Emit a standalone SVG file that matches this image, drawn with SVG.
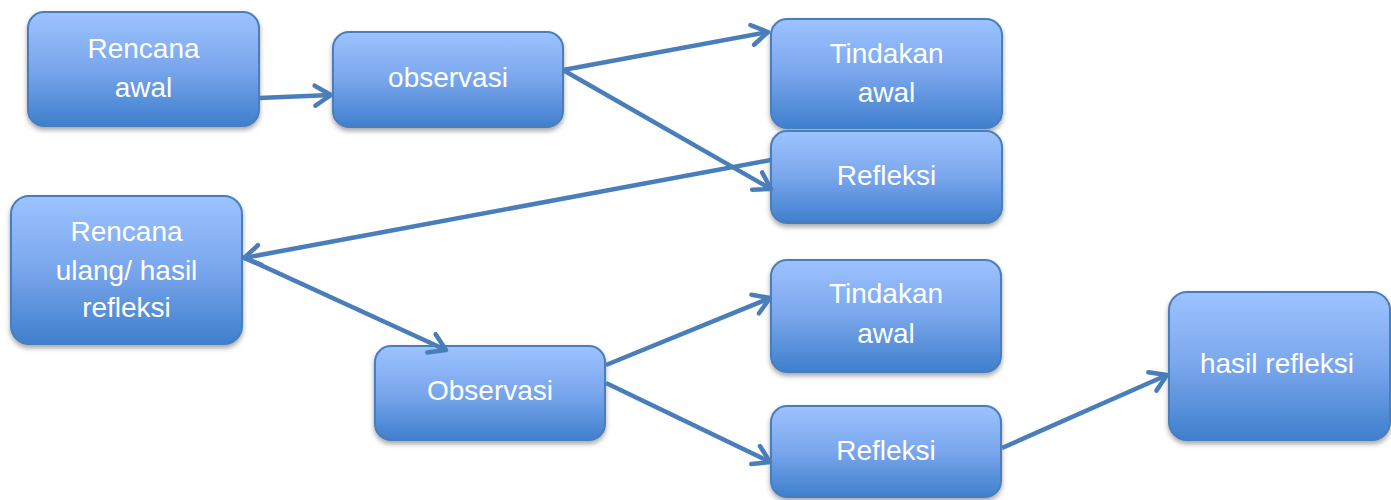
<svg xmlns="http://www.w3.org/2000/svg" width="1391" height="500" viewBox="0 0 1391 500">
<defs>
<linearGradient id="g" x1="0" y1="0" x2="0" y2="1">
<stop offset="0" stop-color="#9dc3ff"/>
<stop offset="0.5" stop-color="#79a6ec"/>
<stop offset="1" stop-color="#3f7fcd"/>
</linearGradient>
<filter id="sh" x="-10%" y="-10%" width="120%" height="130%">
<feDropShadow dx="0" dy="3" stdDeviation="2.5" flood-color="#000" flood-opacity="0.35"/>
</filter>
<marker id="ah" markerUnits="userSpaceOnUse" markerWidth="30" markerHeight="30" viewBox="0 0 30 30" refX="23" refY="15" orient="auto">
<path d="M7,5 L23,15 L7,25" fill="none" stroke="#4a7ebb" stroke-width="4.5" stroke-linecap="round" stroke-linejoin="round"/>
</marker>
<style>
.box{fill:url(#g);stroke:#4a7ebb;stroke-width:2;filter:url(#sh)}
.t{font-family:"Liberation Sans",Arial,sans-serif;font-size:28px;fill:#fff;text-anchor:middle}
.c{fill:none;stroke:#4a7ebb;stroke-width:4.5;marker-end:url(#ah)}
</style>
</defs>
<g id="rencana-awal"><rect class="box" x="28" y="12" width="231" height="114" rx="16"/><text class="t" x="143.5" y="58">Rencana</text><text class="t" x="143.5" y="97">awal</text></g>
<g id="observasi-1"><rect class="box" x="333" y="32" width="230" height="95" rx="16"/><text class="t" x="448" y="87">observasi</text></g>
<g id="tindakan-awal-1"><rect class="box" x="771" y="19" width="231" height="109" rx="16"/><text class="t" x="886.5" y="63">Tindakan</text><text class="t" x="886.5" y="102">awal</text></g>
<g id="refleksi-1"><rect class="box" x="771" y="131" width="231" height="92" rx="16"/><text class="t" x="886.5" y="185">Refleksi</text></g>
<g id="rencana-ulang"><rect class="box" x="11" y="196" width="231" height="148" rx="18"/><text class="t" x="126.5" y="241">Rencana</text><text class="t" x="126.5" y="280">ulang/ hasil</text><text class="t" x="126.5" y="317">refleksi</text></g>
<g id="observasi-2"><rect class="box" x="375" y="346" width="230" height="94" rx="16"/><text class="t" x="490" y="400">Observasi</text></g>
<g id="tindakan-awal-2"><rect class="box" x="771" y="260" width="230" height="112" rx="16"/><text class="t" x="886" y="303">Tindakan</text><text class="t" x="886" y="343">awal</text></g>
<g id="refleksi-2"><rect class="box" x="771" y="406" width="230" height="91" rx="16"/><text class="t" x="886" y="460">Refleksi</text></g>
<g id="hasil-refleksi"><rect class="box" x="1169" y="292" width="221" height="148" rx="18"/><text class="t" x="1277" y="373">hasil refleksi</text></g>
<g id="connectors">
<line class="c" x1="259" y1="98" x2="331" y2="95"/>
<line class="c" x1="563" y1="70" x2="768" y2="32"/>
<line class="c" x1="563" y1="70" x2="771" y2="189"/>
<line class="c" x1="771" y1="160" x2="244" y2="258"/>
<line class="c" x1="243" y1="257" x2="446" y2="350"/>
<line class="c" x1="606" y1="365" x2="770" y2="298"/>
<line class="c" x1="606" y1="383" x2="770" y2="462"/>
<line class="c" x1="1002" y1="448" x2="1167" y2="375"/>
</g>
</svg>
